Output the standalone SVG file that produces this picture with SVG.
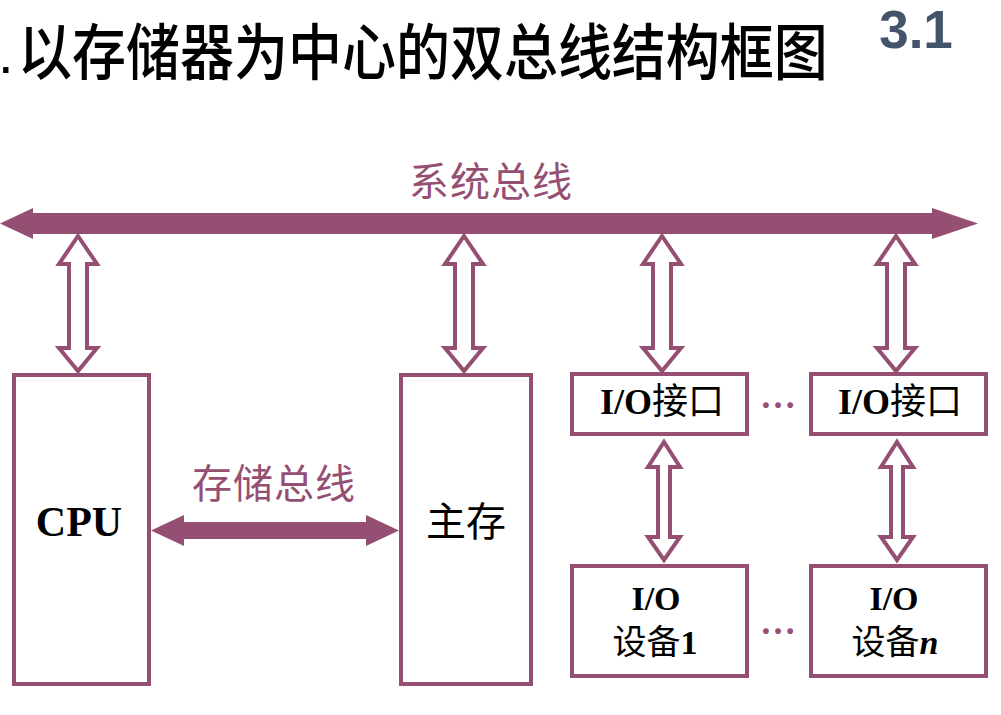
<svg xmlns="http://www.w3.org/2000/svg" width="1001" height="715" viewBox="0 0 1001 715">
  <style>
    .box { fill: #ffffff; stroke: #954F72; stroke-width: 4; }
    .hollow { fill: #ffffff; stroke: #954F72; stroke-width: 4; stroke-linejoin: miter; }
    .solid { fill: #954F72; stroke: none; }
    .lbl { font-family: "Liberation Serif", "Noto Sans CJK SC", serif; font-weight: bold; fill: #000000; text-anchor: middle; }
    .cjk { font-family: "Noto Sans CJK SC", sans-serif; font-weight: normal; }
    .bus { font-family: "Noto Sans CJK SC", sans-serif; fill: #954F72; text-anchor: middle; }
    .dots { font-family: "Liberation Serif", serif; font-weight: bold; fill: #954F72; text-anchor: middle; font-size: 36px; }
  </style>
  <rect width="1001" height="715" fill="#ffffff"/>

  <g id="title">
    <text x="-2" y="73" font-family="Liberation Sans, sans-serif" font-size="56" fill="#000">.</text>
    <text x="18" y="0" transform="translate(0,75) scale(1,1.14)" font-family="'Noto Sans CJK SC', sans-serif" font-size="54" font-weight="500" fill="#000">以存储器为中心的双总线结构框图</text>
    <text x="916" y="48" font-family="'Liberation Sans', sans-serif" font-size="53" font-weight="bold" fill="#44546A" text-anchor="middle">3.1</text>
  </g>

  <g id="connectors">
    <!-- system bus -->
    <polygon class="solid" points="0,223.5 33,208 33,213 932,213 932,208 978,223.5 932,239 932,234 33,234 33,239"/>
    <!-- storage bus -->
    <polygon class="solid" points="151,530.5 184,515 184,522 366,522 366,515 399,530.5 366,546 366,539 184,539 184,546"/>
    <!-- hollow double arrows: bus to modules -->
    <path class="hollow" d="M78,236 L97,264 L87,264 L87,348 L97,348 L78,371 L59,348 L69,348 L69,264 L59,264 Z"/>
    <path class="hollow" d="M464,236 L483,264 L473,264 L473,348 L483,348 L464,371 L445,348 L455,348 L455,264 L445,264 Z"/>
    <path class="hollow" d="M662,236 L681,264 L671,264 L671,348 L681,348 L662,371 L643,348 L653,348 L653,264 L643,264 Z"/>
    <path class="hollow" d="M896,236 L915,264 L905,264 L905,348 L915,348 L896,371 L877,348 L887,348 L887,264 L877,264 Z"/>
    <!-- hollow double arrows: interfaces to devices -->
    <path class="hollow" d="M664,442 L680,467 L670,467 L670,537 L680,537 L664,560 L648,537 L658,537 L658,467 L648,467 Z"/>
    <path class="hollow" d="M897,442 L913,467 L903,467 L903,537 L913,537 L897,560 L881,537 L891,537 L891,467 L881,467 Z"/>
  </g>

  <g id="labels">
    <text class="bus" x="491" y="196" font-size="40" letter-spacing="1">系统总线</text>
    <text class="bus" x="274" y="498" font-size="40" letter-spacing="1">存储总线</text>
  </g>

  <g id="cpu">
    <rect class="box" x="14" y="375" width="135" height="309"/>
    <text class="lbl" x="79" y="536" font-size="42">CPU</text>
  </g>

  <g id="memory">
    <rect class="box" x="401" y="375" width="130" height="309"/>
    <text class="lbl cjk" x="466" y="536" font-size="40">主存</text>
  </g>

  <g id="io-if-1">
    <rect class="box" x="572" y="374" width="175" height="60"/>
    <text class="lbl" x="662" y="414" font-size="36">I/O<tspan class="cjk">接口</tspan></text>
  </g>

  <g id="io-if-n">
    <rect class="box" x="811" y="374" width="175" height="60"/>
    <text class="lbl" x="900" y="414" font-size="36">I/O<tspan class="cjk">接口</tspan></text>
  </g>

  <g id="io-dev-1">
    <rect class="box" x="572" y="566" width="175" height="110"/>
    <text class="lbl" x="656" y="610" font-size="34">I/O</text>
    <text class="lbl" x="655" y="654" font-size="34"><tspan class="cjk">设备</tspan>1</text>
  </g>

  <g id="io-dev-n">
    <rect class="box" x="811" y="566" width="175" height="110"/>
    <text class="lbl" x="894" y="610" font-size="34">I/O</text>
    <text class="lbl" x="895" y="654" font-size="34"><tspan class="cjk">设备</tspan><tspan font-style="italic">n</tspan></text>
  </g>

  <g id="ellipses">
    <text class="dots" x="778" y="408">…</text>
    <text class="dots" x="778" y="634">…</text>
  </g>
</svg>
